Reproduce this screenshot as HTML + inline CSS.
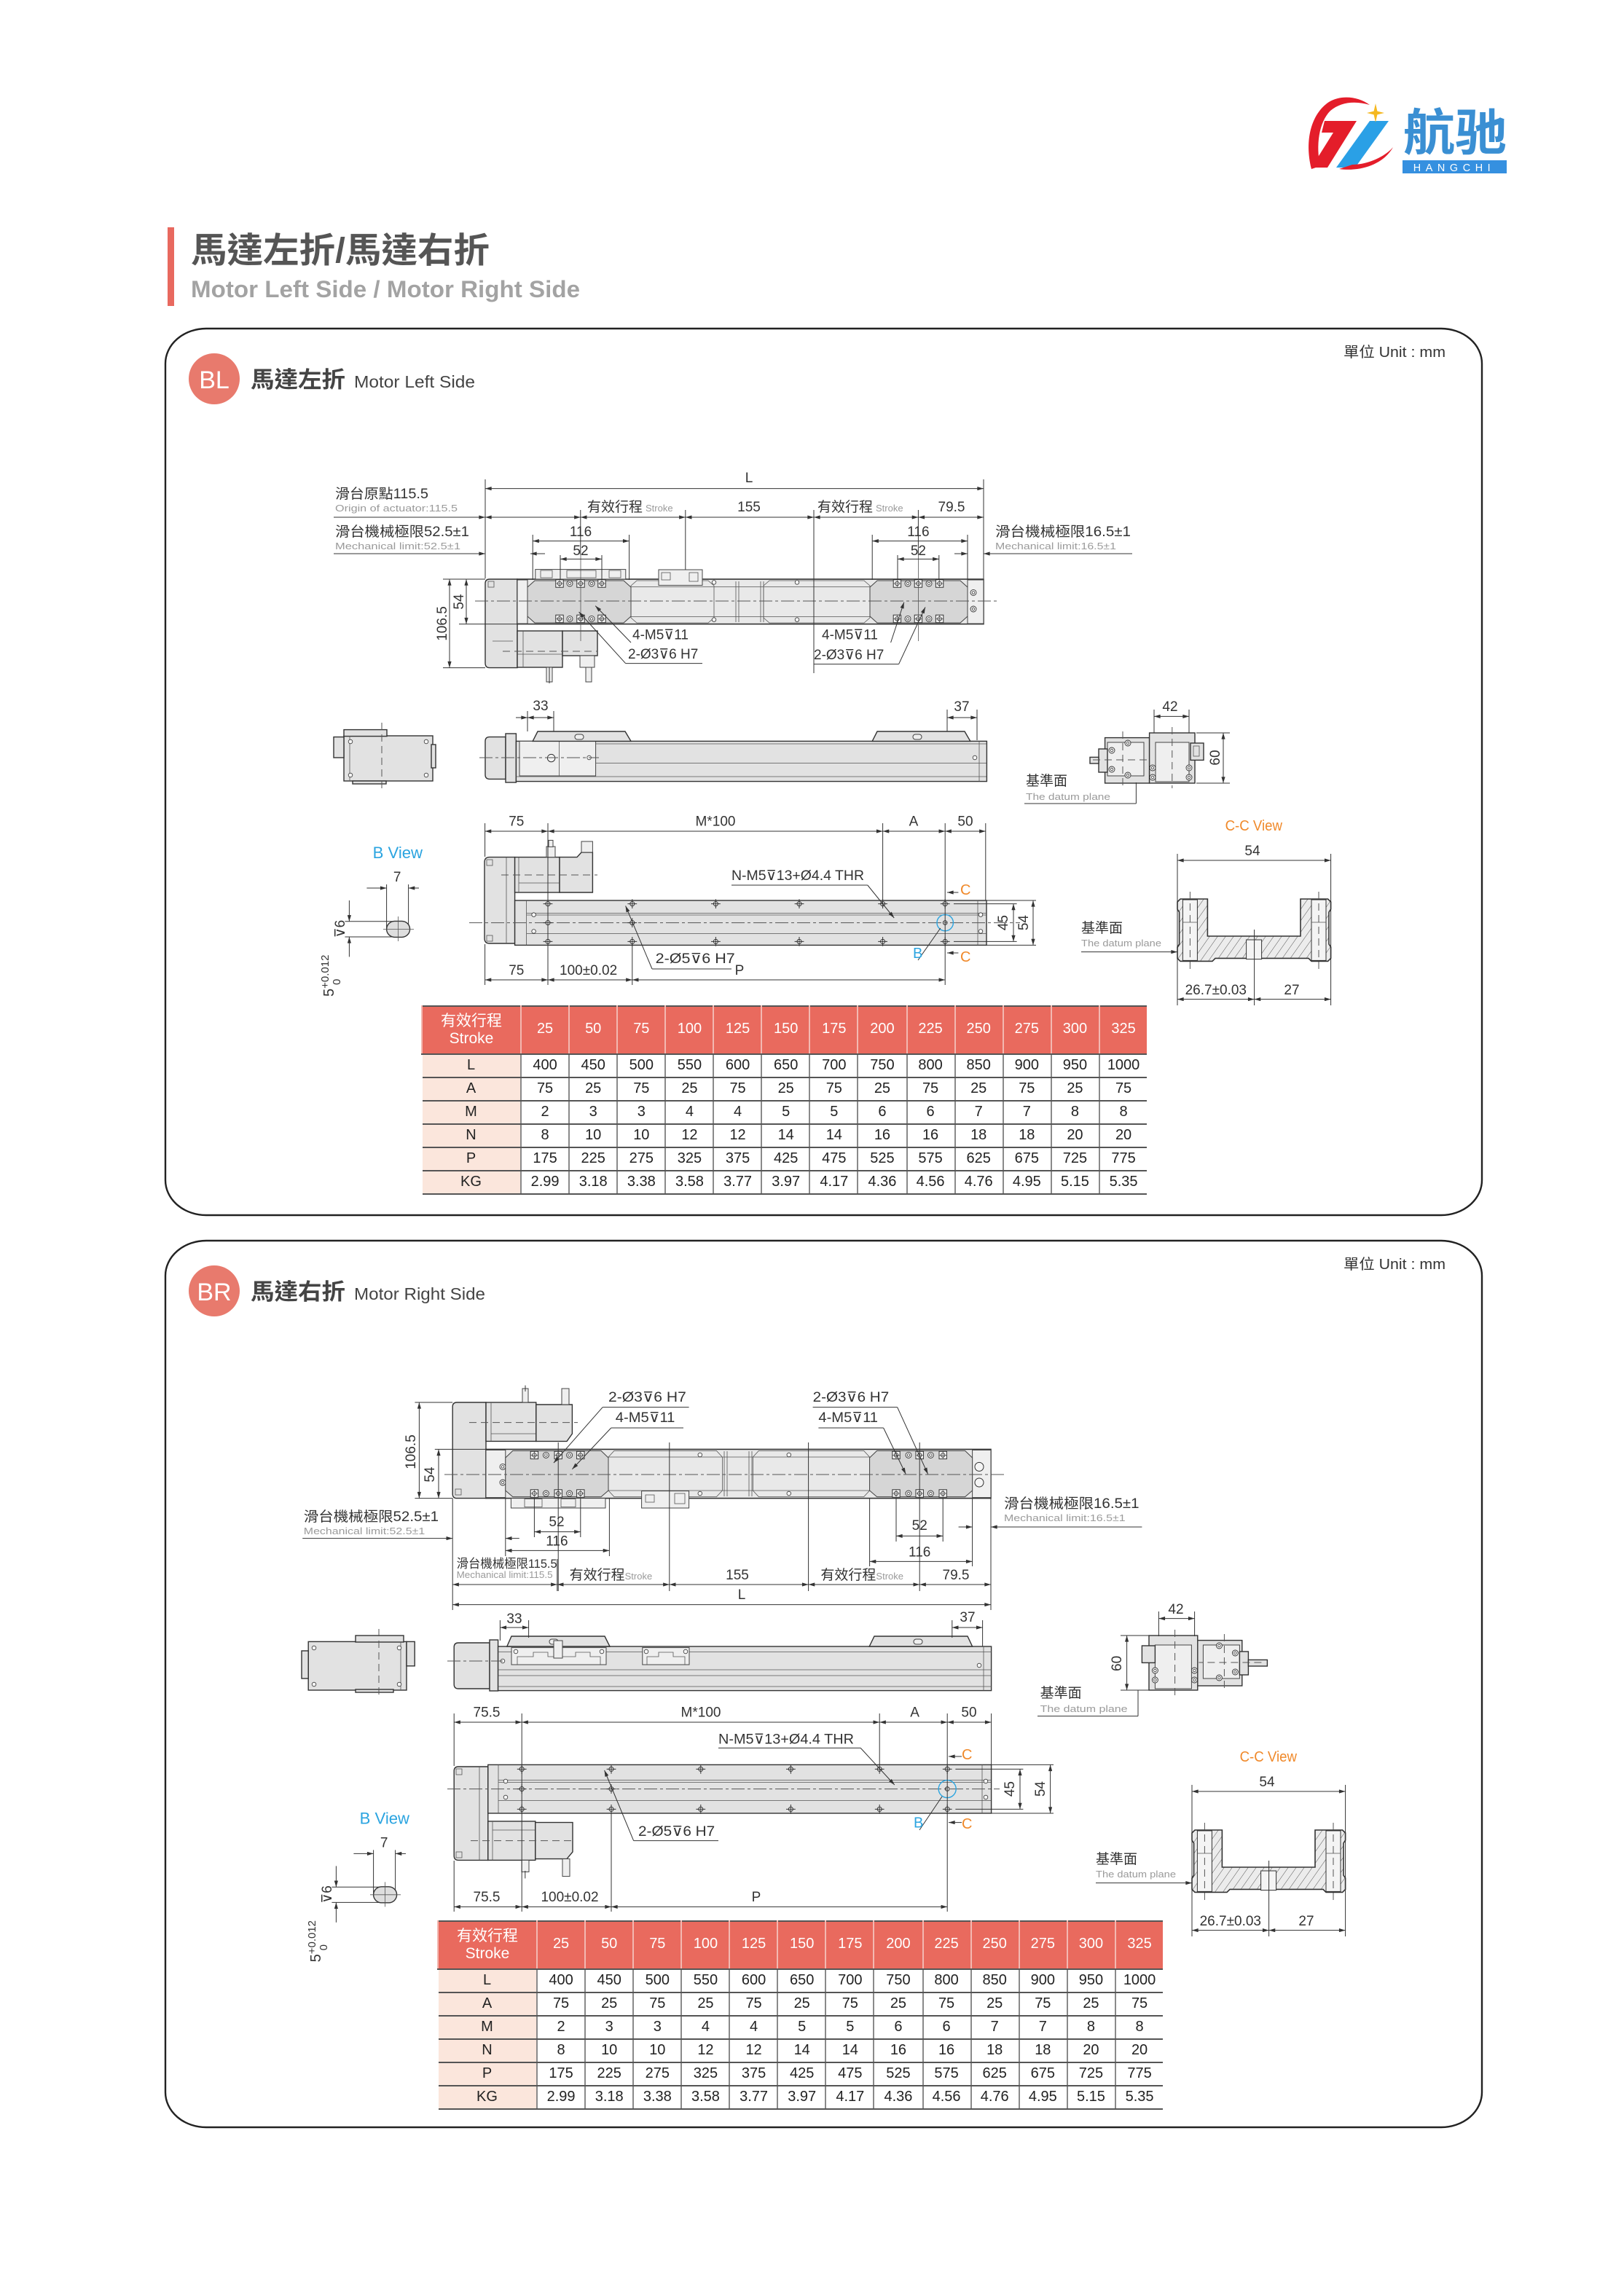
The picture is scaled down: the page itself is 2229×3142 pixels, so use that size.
<!DOCTYPE html>
<html><head><meta charset="utf-8">
<style>
html,body{margin:0;padding:0;background:#fff;}
body{width:2229px;height:3141px;overflow:hidden;position:relative;}
#pg{position:absolute;left:0;top:0;width:1115px;height:1571px;transform:scale(2);transform-origin:0 0;}
#pg svg{position:absolute;left:0;top:0;}
.tb{position:absolute;border-collapse:collapse;table-layout:fixed;width:497px;font-family:"Liberation Sans","Noto Sans CJK TC",sans-serif;font-size:10px;color:#222;}
.tb td{padding:0;text-align:center;height:15px;line-height:15px;border-bottom:0.8px solid #555;border-left:0.6px solid #8a8a8a;white-space:nowrap;overflow:hidden;}
.tb tr.h td{background:#e96a5e;color:#fff;height:32px;line-height:12px;border-left:0.8px solid #f3b8b1;border-bottom:0.8px solid #555;font-size:10px;}
.tb tr.h td.f{font-size:10.5px;background:#e96a5e;}
.tb td.f{background:#fbe6dc;border-left:none;}
.tb tr.h{border-top:1px solid #555;}
</style></head>
<body>
<div id="pg">
<svg width="1115" height="1571" viewBox="0 0 1115 1571" xmlns="http://www.w3.org/2000/svg">
<defs>
<marker id="a" viewBox="0 0 10 6" refX="10" refY="3" markerWidth="5.5" markerHeight="2.6" markerUnits="userSpaceOnUse" orient="auto-start-reverse"><path d="M0,0L10,3L0,6z" fill="#333"/></marker>
<pattern id="h" width="4.5" height="4.5" patternUnits="userSpaceOnUse" patternTransform="rotate(35)"><rect width="4.5" height="4.5" fill="#ececec"/><line x1="0" y1="0" x2="0" y2="4.5" stroke="#555" stroke-width=".5"/></pattern>
<g id="hp"><circle r="1.5" fill="#fff" stroke="#333" stroke-width=".5"/><path d="M-3.2,0H3.2M0,-3.2V3.2" stroke="#333" stroke-width=".5"/></g>
<g id="sq"><rect x="-2.6" y="-2.6" width="5.2" height="5.2" fill="#f7f7f7" stroke="#333" stroke-width=".5"/><circle r="1.4" fill="none" stroke="#333" stroke-width=".45"/><path d="M-2.6,0H2.6M0,-2.6V2.6" stroke="#333" stroke-width=".3"/></g>
<g id="rc"><circle r="2" fill="#f7f7f7" stroke="#333" stroke-width=".45"/><circle r=".9" fill="none" stroke="#333" stroke-width=".4"/></g>
<g id="sc"><circle r="1.4" fill="#f7f7f7" stroke="#333" stroke-width=".4"/></g>
</defs>
<style>
.d{stroke:#333;stroke-width:.5;fill:none}
.p{fill:#e2e2e2;stroke:#333;stroke-width:.7}
.q{fill:#d6d6d6;stroke:#444;stroke-width:.5}
.w{fill:#efefef;stroke:#444;stroke-width:.5}
.t{stroke:#555;stroke-width:.4;fill:none}
.c{stroke:#555;stroke-width:.5;fill:none;stroke-dasharray:9 2 2 2}
.k{stroke:#555;stroke-width:.5;fill:none;stroke-dasharray:5 3}
text{font-family:"Liberation Sans","Noto Sans CJK TC",sans-serif;fill:#333}
.n{font-size:9.5px}
.z{font-size:9.5px}
.s{font-size:6.5px;fill:#9a9a9a}
.m{text-anchor:middle}
.or{fill:#f0892a;font-size:10px}
.bl{fill:#2ba4e0}
</style>

<!-- ===== LOGO ===== -->
<g>
<path d="M900,116 C895,96 900,78 912,70 C920,65 932,66 940,72 C930,69 920,70 913,76 C905,84 903,100 906,114 Z" fill="#e41d2a"/>
<path d="M909,83 L931,83 L911,115 L900,115 L915,91 L907,91 Z" fill="#e41d2a"/>
<path d="M940,83 L953,83 L930,115 L917,115 Z" fill="#2aa0e6"/>
<path d="M919,116 C935,118 950,112 956,101 C950,108 938,113 928,113 Z" fill="#e41d2a"/>
<path d="M944,71 L945.2,76.3 L950,77.5 L945.2,78.7 L944,84 L942.8,78.7 L938,77.5 L942.8,76.3 Z" fill="#f5b820"/>
<text x="963" y="103" font-size="34" font-weight="bold" style="font-family:'Noto Sans CJK SC','WenQuanYi Zen Hei',sans-serif;fill:#3a8fd3" textLength="71" lengthAdjust="spacingAndGlyphs">航驰</text>
<rect x="962.5" y="110" width="71.5" height="9" fill="#3590e0"/>
<text x="998" y="117.6" font-size="7.2" class="m" style="fill:#fff;letter-spacing:3.3px">HANGCHI</text>
</g>

<!-- ===== TITLE ===== -->
<rect x="115" y="156" width="4.5" height="54" fill="#e8695f"/>
<text x="131" y="180" font-size="24" font-weight="bold" style="fill:#555" textLength="205" lengthAdjust="spacingAndGlyphs">馬達左折/馬達右折</text>
<text x="131" y="204" font-size="16" font-weight="bold" style="fill:#a3a3a3" textLength="267" lengthAdjust="spacingAndGlyphs">Motor Left Side / Motor Right Side</text>

<!-- ===== BOXES ===== -->
<rect x="113.5" y="225.5" width="903.5" height="608.5" rx="28" ry="24" fill="none" stroke="#222" stroke-width="1.2"/>
<rect x="113.5" y="851.5" width="903.5" height="608.5" rx="28" ry="24" fill="none" stroke="#222" stroke-width="1.2"/>

<!-- BL header -->
<circle cx="147" cy="260" r="17.5" fill="#e87a6d"/>
<text x="147" y="266.5" class="m" font-size="17" style="fill:#fff">BL</text>
<text x="172" y="266" font-size="15.5" font-weight="bold" style="fill:#444" textLength="65" lengthAdjust="spacingAndGlyphs">馬達左折</text>
<text x="243" y="266" font-size="11.5" style="fill:#444" textLength="83" lengthAdjust="spacingAndGlyphs">Motor Left Side</text>
<text x="992" y="245" font-size="10" text-anchor="end" textLength="70" lengthAdjust="spacingAndGlyphs">單位 Unit : mm</text>

<!-- BR header -->
<circle cx="147" cy="886" r="17.5" fill="#e87a6d"/>
<text x="147" y="892.5" class="m" font-size="17" style="fill:#fff">BR</text>
<text x="172" y="892" font-size="15.5" font-weight="bold" style="fill:#444" textLength="65" lengthAdjust="spacingAndGlyphs">馬達右折</text>
<text x="243" y="892" font-size="11.5" style="fill:#444" textLength="90" lengthAdjust="spacingAndGlyphs">Motor Right Side</text>
<text x="992" y="871" font-size="10" text-anchor="end" textLength="70" lengthAdjust="spacingAndGlyphs">單位 Unit : mm</text>

<!-- ===================== BL TOP VIEW ========================= -->
<g>
<path d="M336,397.5 H355 V458.3 H336 Q333,458.3 333,455 V400.5 Q333,397.5 336,397.5Z" class="p"/>
<rect x="335" y="399" width="4" height="4" class="t"/>
<line x1="338" y1="440" x2="352" y2="440" class="t"/>
<rect x="355" y="433" width="31" height="25" class="p"/>
<rect x="386" y="433" width="24" height="17" class="p"/>
<line x1="359" y1="433" x2="359" y2="458" class="t"/>
<line x1="355" y1="449" x2="386" y2="449" class="t"/>
<rect x="375" y="458" width="4" height="10" class="w"/>
<line x1="377" y1="458" x2="377" y2="469" class="d"/>
<rect x="398" y="450" width="10" height="8" class="w"/>
<rect x="402" y="458" width="4" height="10" class="w"/>
<line x1="345" y1="447" x2="410" y2="447" class="k"/>
<rect x="355" y="397.5" width="320" height="30.8" fill="#e9e9e9" stroke="#333" stroke-width=".8"/>
<line x1="433" y1="402.8" x2="597" y2="402.8" class="t"/>
<line x1="433" y1="423.3" x2="597" y2="423.3" class="t"/>
<path d="M437,398.5 H486 L490,402 V424 L486,427.5 H437 L433,424 V402Z" class="t"/>
<path d="M528,398.5 H593 L597,402 V424 L593,427.5 H528 L524,424 V402Z" class="t"/>
<line x1="505" y1="399" x2="505" y2="427" class="t"/><line x1="507" y1="399" x2="507" y2="427" class="t"/>
<line x1="522" y1="399" x2="522" y2="427" class="t"/><line x1="524" y1="399" x2="524" y2="427" class="t"/>
<use href="#sc" x="490" y="399.7"/><use href="#sc" x="490" y="425.3"/>
<use href="#sc" x="547" y="399.7"/><use href="#sc" x="547" y="425.3"/>
<rect x="355" y="398" width="7" height="30" class="w"/>
<use href="#rc" x="364" y="406.7"/><use href="#rc" x="364" y="416.7"/>
<rect x="664" y="398" width="11" height="30" class="w"/>
<use href="#rc" x="668" y="406.7"/><use href="#rc" x="668" y="418"/>
<path d="M367,398.5 H428 L433,403 V423 L428,427.5 H367 L362,423 V403Z" class="q" fill="#dcdcdc"/>
<path d="M602,398.5 H659 L664,403 V423 L659,427.5 H602 L597,423 V403Z" class="q" fill="#dcdcdc"/>
<use href="#sq" x="384" y="400.5"/><use href="#rc" x="391" y="400.5"/><use href="#sq" x="398.5" y="400.5"/><use href="#rc" x="406" y="400.5"/><use href="#sq" x="413" y="400.5"/>
<use href="#sq" x="384" y="424.7"/><use href="#rc" x="391" y="424.7"/><use href="#sq" x="398.5" y="424.7"/><use href="#rc" x="406" y="424.7"/><use href="#sq" x="413" y="424.7"/>
<use href="#sq" x="615.7" y="400.5"/><use href="#rc" x="623" y="400.5"/><use href="#sq" x="630.2" y="400.5"/><use href="#rc" x="637.5" y="400.5"/><use href="#sq" x="644.8" y="400.5"/>
<use href="#sq" x="615.7" y="424.7"/><use href="#rc" x="623" y="424.7"/><use href="#sq" x="630.2" y="424.7"/><use href="#rc" x="637.5" y="424.7"/><use href="#sq" x="644.8" y="424.7"/>
<rect x="367.4" y="390.8" width="62" height="6.7" class="w"/>
<rect x="371" y="391.5" width="8" height="5" class="t"/><rect x="418" y="391.5" width="8" height="5" class="t"/>
<rect x="389" y="391.5" width="20" height="5" class="t"/>
<rect x="452" y="391" width="30" height="10.7" class="w"/>
<rect x="454" y="393" width="6" height="5" class="t"/><rect x="473" y="393" width="6" height="6" class="t"/>
<line x1="326" y1="412.5" x2="685" y2="412.5" class="c"/>
<line x1="398.5" y1="381" x2="398.5" y2="440" class="t"/>
<line x1="630.2" y1="381" x2="630.2" y2="440" class="t"/>
</g>
<g class="d">
<line x1="333" y1="329" x2="333" y2="397"/>
<line x1="675" y1="329" x2="675" y2="397"/>
<line x1="333" y1="335.3" x2="675" y2="335.3" marker-start="url(#a)" marker-end="url(#a)"/>
<line x1="229" y1="355" x2="333" y2="355" marker-end="url(#a)"/>
<line x1="333" y1="355" x2="398.4" y2="355" marker-start="url(#a)" marker-end="url(#a)"/>
<line x1="398.4" y1="355" x2="470.4" y2="355" marker-start="url(#a)" marker-end="url(#a)"/>
<line x1="470.4" y1="355" x2="558.5" y2="355" marker-start="url(#a)" marker-end="url(#a)"/>
<line x1="558.5" y1="355" x2="630.2" y2="355" marker-start="url(#a)" marker-end="url(#a)"/>
<line x1="630.2" y1="355" x2="675" y2="355" marker-start="url(#a)" marker-end="url(#a)"/>
<line x1="398.4" y1="350" x2="398.4" y2="381"/>
<line x1="470.4" y1="350" x2="470.4" y2="391"/>
<line x1="558.5" y1="350" x2="558.5" y2="462"/>
<line x1="630.2" y1="350" x2="630.2" y2="381"/>
<line x1="229" y1="380" x2="333" y2="380" marker-end="url(#a)"/>
<line x1="374" y1="380" x2="364" y2="380" marker-end="url(#a)"/>
<line x1="655" y1="380" x2="664" y2="380" marker-end="url(#a)"/>
<line x1="777" y1="380" x2="675" y2="380" marker-end="url(#a)"/>
<line x1="365.6" y1="367" x2="365.6" y2="398"/><line x1="431.8" y1="367" x2="431.8" y2="398"/>
<line x1="365.6" y1="371.3" x2="431.8" y2="371.3" marker-start="url(#a)" marker-end="url(#a)"/>
<line x1="384.5" y1="381" x2="384.5" y2="398"/><line x1="413" y1="381" x2="413" y2="398"/>
<line x1="384.5" y1="383.7" x2="413" y2="383.7" marker-start="url(#a)" marker-end="url(#a)"/>
<line x1="598.6" y1="367" x2="598.6" y2="398"/><line x1="664" y1="367" x2="664" y2="398"/>
<line x1="598.6" y1="371.3" x2="664" y2="371.3" marker-start="url(#a)" marker-end="url(#a)"/>
<line x1="616" y1="381" x2="616" y2="398"/><line x1="644.4" y1="381" x2="644.4" y2="398"/>
<line x1="616" y1="383.7" x2="644.4" y2="383.7" marker-start="url(#a)" marker-end="url(#a)"/>
<line x1="315" y1="397.5" x2="333" y2="397.5"/>
<line x1="315" y1="428.3" x2="355" y2="428.3"/>
<line x1="320" y1="397.5" x2="320" y2="428.3" marker-start="url(#a)" marker-end="url(#a)"/>
<line x1="304" y1="458.3" x2="333" y2="458.3"/>
<line x1="304" y1="397.5" x2="315" y2="397.5"/>
<line x1="308.5" y1="397.5" x2="308.5" y2="458.3" marker-start="url(#a)" marker-end="url(#a)"/>
<line x1="397.3" y1="420" x2="429.3" y2="455.3" marker-start="url(#a)"/>
<line x1="429.3" y1="455.3" x2="482" y2="455.3"/>
<line x1="408.6" y1="415.8" x2="433" y2="441" marker-start="url(#a)"/>
<line x1="620.4" y1="413.3" x2="611.3" y2="441" marker-start="url(#a)"/>
<line x1="635" y1="416.7" x2="616.8" y2="455.8" marker-start="url(#a)"/>
<line x1="558.5" y1="455.8" x2="616.8" y2="455.8"/>
</g>
<g>
<text x="514" y="331" class="n m">L</text>
<text x="230" y="342" class="z" textLength="64" lengthAdjust="spacingAndGlyphs">滑台原點115.5</text>
<text x="230" y="351" class="s" textLength="84" lengthAdjust="spacingAndGlyphs">Origin of actuator:115.5</text>
<text x="403" y="351" class="z">有效行程<tspan class="s" dx="2">Stroke</tspan></text>
<text x="514" y="351" class="n m">155</text>
<text x="561" y="351" class="z">有效行程<tspan class="s" dx="2">Stroke</tspan></text>
<text x="653" y="351" class="n m">79.5</text>
<text x="230" y="368" class="z" textLength="92" lengthAdjust="spacingAndGlyphs">滑台機械極限52.5±1</text>
<text x="230" y="377" class="s" textLength="86" lengthAdjust="spacingAndGlyphs">Mechanical limit:52.5±1</text>
<text x="683" y="368" class="z" textLength="93" lengthAdjust="spacingAndGlyphs">滑台機械極限16.5±1</text>
<text x="683" y="377" class="s" textLength="83" lengthAdjust="spacingAndGlyphs">Mechanical limit:16.5±1</text>
<text x="398.5" y="368" class="n m">116</text>
<text x="398.5" y="381" class="n m">52</text>
<text x="630.2" y="368" class="n m">116</text>
<text x="630.2" y="381" class="n m">52</text>
<text transform="translate(318,413) rotate(-90)" class="n m">54</text>
<text transform="translate(306.5,428) rotate(-90)" class="n m">106.5</text>
<text x="434" y="438.7" class="z">4-M5⊽11</text>
<text x="431" y="452" class="z">2-Ø3⊽6 H7</text>
<text x="564" y="438.7" class="z">4-M5⊽11</text>
<text x="558.5" y="452.5" class="z">2-Ø3⊽6 H7</text>
</g>

<!-- ===================== BL SIDE ROW ========================= -->
<g>
<rect x="236" y="505" width="61" height="31" class="p"/>
<rect x="236" y="500.8" width="29.5" height="4.5" class="p"/>
<rect x="229" y="505.8" width="7" height="14.2" class="p"/>
<rect x="296" y="511" width="3" height="16" class="p"/>
<rect x="242" y="536" width="23" height="2" class="p"/>
<line x1="240" y1="505" x2="240" y2="536" class="t"/>
<line x1="262" y1="496" x2="262" y2="541" class="k"/>
<use href="#sc" x="240.5" y="509"/><use href="#sc" x="292.5" y="509"/><use href="#sc" x="240.5" y="532"/><use href="#sc" x="292.5" y="532"/>
<path d="M336,505.8 H347 V534.7 H336 Q333,534.7 333,531.7 V508.8 Q333,505.8 336,505.8Z" class="p"/>
<rect x="347" y="503.5" width="7.2" height="33.5" class="p"/>
<rect x="354.2" y="508.7" width="323" height="27.6" class="p" fill="#e7e7e7"/>
<rect x="356.5" y="508.7" width="52.3" height="23.8" class="w"/>
<line x1="383.8" y1="508.7" x2="383.8" y2="532.5" class="t"/>
<line x1="408.8" y1="510.5" x2="677" y2="510.5" class="t"/>
<line x1="408.8" y1="523.7" x2="677" y2="523.7" class="t"/>
<line x1="354.2" y1="533" x2="677" y2="533" class="t"/>
<line x1="672" y1="508.7" x2="672" y2="536.3" class="t"/>
<circle cx="378.3" cy="520.3" r="2.6" fill="#f5f5f5" stroke="#333" stroke-width=".5"/>
<use href="#sc" x="404.3" y="520"/><use href="#sc" x="669" y="520"/>
<path d="M365.6,508.7 L369,502 H429 L433,508.7Z" class="p"/>
<path d="M598.6,508.7 L602,502 H662 L665.9,508.7Z" class="p"/>
<rect x="394.5" y="504" width="6" height="3.5" rx="1.7" class="w"/>
<rect x="626.5" y="504" width="6" height="3.5" rx="1.7" class="w"/>
<line x1="329" y1="520" x2="411" y2="520" class="c"/>
<rect x="758.3" y="506.3" width="30.5" height="31.2" class="p"/>
<rect x="760" y="509.5" width="25" height="23" class="w"/>
<rect x="754" y="514" width="6" height="16" class="p"/>
<rect x="748" y="519.7" width="6" height="4.3" class="p"/>
<rect x="788.8" y="503" width="31.2" height="34.5" class="p"/>
<rect x="793" y="509.5" width="23" height="27" class="w"/>
<rect x="817" y="510" width="9" height="11.7" class="p"/>
<rect x="819" y="512" width="4" height="7" class="t"/>
<use href="#rc" x="763" y="515"/><use href="#rc" x="763" y="528"/><use href="#rc" x="774" y="510"/><use href="#rc" x="774" y="532"/>
<use href="#rc" x="791" y="527"/><use href="#rc" x="791" y="533.5"/><use href="#rc" x="816" y="527"/><use href="#rc" x="816" y="533.5"/>
<line x1="804.4" y1="499" x2="804.4" y2="541" class="k"/>
<line x1="770.5" y1="502" x2="770.5" y2="540" class="k"/>
<line x1="750" y1="521.5" x2="788" y2="521.5" class="k"/>
</g>
<g class="d">
<line x1="362" y1="488" x2="362" y2="502"/><line x1="380" y1="488" x2="380" y2="502"/>
<line x1="354" y1="492.5" x2="362" y2="492.5" marker-end="url(#a)"/>
<line x1="362" y1="492.5" x2="380" y2="492.5" marker-start="url(#a)" marker-end="url(#a)"/>
<line x1="650" y1="487" x2="650" y2="502"/><line x1="670.5" y1="487" x2="670.5" y2="508"/>
<line x1="650" y1="492.5" x2="670.5" y2="492.5" marker-start="url(#a)" marker-end="url(#a)"/>
<line x1="792" y1="487" x2="792" y2="503"/><line x1="816" y1="487" x2="816" y2="503"/>
<line x1="792" y1="491.7" x2="816" y2="491.7" marker-start="url(#a)" marker-end="url(#a)"/>
<line x1="821" y1="503" x2="844" y2="503"/><line x1="821" y1="537.5" x2="844" y2="537.5"/>
<line x1="839.5" y1="503" x2="839.5" y2="537.5" marker-start="url(#a)" marker-end="url(#a)"/>
<line x1="703" y1="551.5" x2="779.7" y2="551.5"/><line x1="779.7" y1="537" x2="779.7" y2="551.5"/>
</g>
<g>
<text x="371" y="487.5" class="n m">33</text>
<text x="660" y="488" class="n m">37</text>
<text x="803" y="488" class="n m">42</text>
<text transform="translate(837,520) rotate(-90)" class="n m">60</text>
<text x="704" y="539" class="z">基準面</text>
<text x="704" y="549" class="s" textLength="58" lengthAdjust="spacingAndGlyphs">The datum plane</text>
</g>

<!-- ===================== BL BOTTOM VIEW ========================= -->
<g>
<path d="M336,588.3 H353.3 V647.5 H336 Q332.5,647.5 332.5,644 V591.8 Q332.5,588.3 336,588.3Z" class="p"/>
<rect x="334" y="590" width="4" height="4" class="t"/><rect x="334" y="642" width="4" height="4" class="t"/>
<line x1="347.5" y1="588.3" x2="347.5" y2="647.5" class="t"/>
<rect x="353.3" y="588.3" width="30.7" height="24.2" class="p"/>
<line x1="356" y1="588.3" x2="356" y2="612.5" class="t"/>
<line x1="356" y1="606" x2="384" y2="606" class="t"/>
<path d="M384,588.3 H396 L399,585 H406.7 V612.5 H384Z" class="p"/>
<rect x="399" y="577.5" width="7.7" height="7.5" class="w"/>
<rect x="375" y="581" width="6" height="7.3" class="w"/>
<rect x="376.5" y="576.7" width="3" height="4.5" class="w"/>
<line x1="344" y1="600.5" x2="410" y2="600.5" class="k"/>
<rect x="353.3" y="618" width="323.7" height="30.7" class="p" fill="#e7e7e7"/>
<line x1="361.3" y1="618" x2="361.3" y2="648.7" class="t"/>
<line x1="361.3" y1="626.7" x2="677" y2="626.7" class="t"/>
<line x1="361.3" y1="628" x2="677" y2="628" class="t"/>
<line x1="361.3" y1="640.8" x2="677" y2="640.8" class="t"/>
<line x1="671" y1="618" x2="671" y2="648.7" class="t"/>
<use href="#sc" x="366.3" y="627.8"/><use href="#sc" x="366.3" y="639.2"/>
<use href="#sc" x="673" y="627.8"/><use href="#sc" x="673" y="639.2"/>
<line x1="322" y1="633.3" x2="700" y2="633.3" class="c"/>
<use href="#hp" x="376" y="620.3"/><use href="#hp" x="433.9" y="620.3"/><use href="#hp" x="491.2" y="620.3"/><use href="#hp" x="548.5" y="620.3"/><use href="#hp" x="605.8" y="620.3"/><use href="#hp" x="648.6" y="620.3"/>
<use href="#hp" x="376" y="646.2"/><use href="#hp" x="433.9" y="646.2"/><use href="#hp" x="491.2" y="646.2"/><use href="#hp" x="548.5" y="646.2"/><use href="#hp" x="605.8" y="646.2"/><use href="#hp" x="648.6" y="646.2"/>
<use href="#hp" x="376" y="633.3"/><use href="#hp" x="433.9" y="633.3"/>
<circle cx="648.6" cy="633.3" r="5.6" fill="none" stroke="#2ba4e0" stroke-width=".7"/>
<circle cx="648.6" cy="633.3" r="1.4" fill="none" stroke="#333" stroke-width=".5"/>
</g>
<g class="d">
<line x1="332.8" y1="565" x2="332.8" y2="588"/>
<line x1="376" y1="565" x2="376" y2="676"/>
<line x1="605.8" y1="565" x2="605.8" y2="618"/>
<line x1="648.6" y1="565" x2="648.6" y2="676"/>
<line x1="676.4" y1="565" x2="676.4" y2="618"/>
<line x1="332.8" y1="570.5" x2="376" y2="570.5" marker-start="url(#a)" marker-end="url(#a)"/>
<line x1="376" y1="570.5" x2="605.8" y2="570.5" marker-start="url(#a)" marker-end="url(#a)"/>
<line x1="605.8" y1="570.5" x2="648.6" y2="570.5" marker-start="url(#a)" marker-end="url(#a)"/>
<line x1="648.6" y1="570.5" x2="676.4" y2="570.5" marker-start="url(#a)" marker-end="url(#a)"/>
<line x1="332.8" y1="648" x2="332.8" y2="676"/>
<line x1="433.9" y1="648" x2="433.9" y2="676"/>
<line x1="332.8" y1="672.5" x2="376" y2="672.5" marker-start="url(#a)" marker-end="url(#a)"/>
<line x1="376" y1="672.5" x2="433.9" y2="672.5" marker-start="url(#a)" marker-end="url(#a)"/>
<line x1="433.9" y1="672.5" x2="648.6" y2="672.5" marker-start="url(#a)" marker-end="url(#a)"/>
<line x1="654.5" y1="620.3" x2="697.8" y2="620.3"/><line x1="654.5" y1="646.2" x2="697.8" y2="646.2"/>
<line x1="695.5" y1="620.3" x2="695.5" y2="646.2" marker-start="url(#a)" marker-end="url(#a)"/>
<line x1="677" y1="618" x2="711" y2="618"/><line x1="677" y1="648.7" x2="711" y2="648.7"/>
<line x1="709" y1="618" x2="709" y2="648.7" marker-start="url(#a)" marker-end="url(#a)"/>
<line x1="502" y1="607.5" x2="595.4" y2="607.5"/>
<line x1="595.4" y1="607.5" x2="613.6" y2="630" marker-end="url(#a)"/>
<line x1="447.5" y1="665" x2="502" y2="665"/>
<line x1="447.5" y1="665" x2="429.3" y2="621.7" marker-end="url(#a)"/>
<line x1="657.7" y1="612.5" x2="650" y2="612.5" marker-end="url(#a)"/>
<line x1="657.7" y1="654" x2="650" y2="654" marker-end="url(#a)"/>
<line x1="630" y1="659" x2="645.4" y2="637"/>
</g>
<g>
<text x="354.4" y="566.7" class="n m">75</text>
<text x="491" y="566.7" class="n m">M*100</text>
<text x="627" y="566.7" class="n m">A</text>
<text x="662.5" y="566.7" class="n m">50</text>
<text x="354.4" y="669" class="n m">75</text>
<text x="403.8" y="669" class="n m">100±0.02</text>
<text x="507.5" y="669" class="n m">P</text>
<text x="502" y="604" class="z" textLength="91" lengthAdjust="spacingAndGlyphs">N-M5⊽13+Ø4.4 THR</text>
<text x="449.8" y="661" class="z" textLength="54.6" lengthAdjust="spacingAndGlyphs">2-Ø5⊽6 H7</text>
<text transform="translate(691.5,633.3) rotate(-90)" class="n m">45</text>
<text transform="translate(705.5,633.3) rotate(-90)" class="n m">54</text>
<text x="659" y="614" class="or">C</text>
<text x="659" y="660" class="or">C</text>
<text x="626.5" y="657.5" class="bl" font-size="10">B</text>
</g>

<g id="bv">
<text x="255.8" y="589" class="bl" font-size="11" textLength="34.2" lengthAdjust="spacingAndGlyphs">B View</text>
<g class="d">
<line x1="251.7" y1="609.5" x2="265.3" y2="609.5" marker-end="url(#a)"/>
<line x1="287.5" y1="609.5" x2="280.3" y2="609.5" marker-end="url(#a)"/>
<line x1="265.3" y1="607" x2="265.3" y2="637"/>
<line x1="280.3" y1="607" x2="280.3" y2="637"/>
<line x1="236.7" y1="632.4" x2="272" y2="632.4"/>
<line x1="236.7" y1="643" x2="272" y2="643"/>
<line x1="239.7" y1="618" x2="239.7" y2="632.4" marker-end="url(#a)"/>
<line x1="239.7" y1="656.7" x2="239.7" y2="643" marker-end="url(#a)"/>
</g>
<rect x="265.3" y="632.2" width="16" height="11" rx="5.5" ry="5.5" fill="#dedede" stroke="#333" stroke-width=".7"/>
<line x1="263" y1="637.7" x2="284" y2="637.7" class="t"/>
<line x1="273.3" y1="629" x2="273.3" y2="646" class="t"/>
<text x="272.6" y="605" class="n m">7</text>
<text transform="translate(236.5,637.5) rotate(-90)" class="n m">⊽6</text>
<text transform="translate(229,684) rotate(-90)" font-size="10">5<tspan font-size="7.5" dy="-3.5">+0.012</tspan></text>
<text transform="translate(233.5,676) rotate(-90)" font-size="7.5">0</text>
</g>

<g id="cc">
<text x="840.8" y="570" class="or" textLength="39.2" lengthAdjust="spacingAndGlyphs">C-C View</text>
<text x="859.5" y="587" class="n m">54</text>
<g class="d">
<line x1="808" y1="586" x2="808" y2="690"/>
<line x1="913.3" y1="586" x2="913.3" y2="690"/>
<line x1="808" y1="590.5" x2="913.3" y2="590.5" marker-start="url(#a)" marker-end="url(#a)"/>
<line x1="808" y1="685.8" x2="860.8" y2="685.8" marker-start="url(#a)" marker-end="url(#a)"/>
<line x1="860.8" y1="685.8" x2="913.3" y2="685.8" marker-start="url(#a)" marker-end="url(#a)"/>
<line x1="742" y1="653.3" x2="808" y2="653.3" marker-end="url(#a)"/>
</g>
<path d="M810,617 H828.7 V642.5 H892.5 V617 H911.3 L913.3,619 V624 L912,626 V648 L913.3,650 V657.7 L911.3,659.7 H900 L898,657.7 H834 L832,659.7 H810 L808,657.7 V650 L809.3,648 V626 L808,624 V619Z" fill="url(#h)" stroke="#333" stroke-width=".8"/>
<rect x="811.7" y="617.5" width="10" height="41.7" fill="#f4f4f4" stroke="#333" stroke-width=".5"/>
<line x1="811.7" y1="633" x2="821.7" y2="633" class="t"/>
<rect x="900" y="617.5" width="10" height="41.7" fill="#f4f4f4" stroke="#333" stroke-width=".5"/>
<line x1="900" y1="633" x2="910" y2="633" class="t"/>
<rect x="855.3" y="645" width="10.5" height="13.3" fill="#f4f4f4" stroke="#333" stroke-width=".5"/>
<line x1="816.7" y1="612" x2="816.7" y2="665" class="k"/>
<line x1="905" y1="612" x2="905" y2="665" class="k"/>
<line x1="860.8" y1="638" x2="860.8" y2="690" class="d"/>
<text x="834.4" y="682.5" class="n m">26.7±0.03</text>
<text x="886.5" y="682.5" class="n m">27</text>
<text x="742" y="640" class="z">基準面</text>
<text x="742" y="649.5" class="s" textLength="55" lengthAdjust="spacingAndGlyphs">The datum plane</text>
</g>

<!-- ===================== BR TOP VIEW ========================= -->
<g>
<path d="M313.6,962.5 H333.5 V1028.3 H313.6 Q310.6,1028.3 310.6,1025.3 V965.5 Q310.6,962.5 313.6,962.5Z" class="p"/>
<rect x="312.5" y="1022" width="4" height="4" class="t"/>
<rect x="333.5" y="962.5" width="34.4" height="26.7" class="p"/>
<line x1="337" y1="962.5" x2="337" y2="989.2" class="t"/>
<line x1="337" y1="984" x2="367.9" y2="984" class="t"/>
<path d="M367.9,964 H392.7 V984 L389,989.2 H367.9Z" class="p"/>
<rect x="358.5" y="953" width="4" height="9.5" class="w"/>
<line x1="360.5" y1="950.8" x2="360.5" y2="955" class="d"/>
<rect x="385.5" y="953" width="5" height="11" class="w"/>
<line x1="322" y1="976.3" x2="396.5" y2="976.3" class="k"/>
<rect x="333.5" y="994.7" width="346.5" height="33.6" fill="#e9e9e9" stroke="#333" stroke-width=".8"/>
<line x1="417.5" y1="1000" x2="596.8" y2="1000" class="t"/>
<line x1="417.5" y1="1023" x2="596.8" y2="1023" class="t"/>
<path d="M421.5,995.7 H491.7 L495.7,1000 V1023 L491.7,1027.3 H421.5 L417.5,1023 V1000Z" class="t"/>
<path d="M520.7,995.7 H592.8 L596.8,1000 V1023 L592.8,1027.3 H520.7 L516.7,1023 V1000Z" class="t"/>
<line x1="497" y1="996" x2="497" y2="1027" class="t"/><line x1="499" y1="996" x2="499" y2="1027" class="t"/>
<line x1="514" y1="996" x2="514" y2="1027" class="t"/><line x1="516" y1="996" x2="516" y2="1027" class="t"/>
<use href="#sc" x="480.4" y="998.5"/><use href="#sc" x="480.4" y="1025"/>
<use href="#sc" x="541.4" y="998.5"/><use href="#sc" x="541.4" y="1025"/>
<rect x="333.5" y="995.2" width="13.4" height="32.6" class="w"/>
<use href="#rc" x="345" y="1006.7"/><use href="#rc" x="345" y="1017.5"/>
<rect x="667.3" y="995.2" width="12.7" height="32.6" class="w"/>
<circle cx="672" cy="1006.7" r="3" fill="#f5f5f5" stroke="#333" stroke-width=".5"/>
<circle cx="672" cy="1017.5" r="3" fill="#f5f5f5" stroke="#333" stroke-width=".5"/>
<path d="M351.9,995.7 H412.5 L417.5,1000.5 V1023 L412.5,1027.3 H351.9 L346.9,1023 V1000.5Z" class="q" fill="#dcdcdc"/>
<path d="M601.8,995.7 H662.3 L667.3,1000.5 V1023 L662.3,1027.3 H601.8 L596.8,1023 V1000.5Z" class="q" fill="#dcdcdc"/>
<use href="#sq" x="366.7" y="998.7"/><use href="#rc" x="374.7" y="998.7"/><use href="#sq" x="383.1" y="998.7"/><use href="#rc" x="390.8" y="998.7"/><use href="#sq" x="398.4" y="998.7"/>
<use href="#sq" x="366.7" y="1025"/><use href="#rc" x="374.7" y="1025"/><use href="#sq" x="383.1" y="1025"/><use href="#rc" x="390.8" y="1025"/><use href="#sq" x="398.4" y="1025"/>
<use href="#sq" x="615" y="998.7"/><use href="#rc" x="623.5" y="998.7"/><use href="#sq" x="631.1" y="998.7"/><use href="#rc" x="638.7" y="998.7"/><use href="#sq" x="647.1" y="998.7"/>
<use href="#sq" x="615" y="1025"/><use href="#rc" x="623.5" y="1025"/><use href="#sq" x="631.1" y="1025"/><use href="#rc" x="638.7" y="1025"/><use href="#sq" x="647.1" y="1025"/>
<rect x="350.7" y="1028.3" width="64.8" height="6.7" class="w"/>
<rect x="360" y="1028.8" width="12" height="5.5" class="t"/><rect x="385" y="1028.8" width="10" height="5.5" class="t"/>
<rect x="440.3" y="1023.3" width="32.5" height="11.7" class="w"/>
<rect x="443" y="1026" width="6" height="5" class="t"/><rect x="463" y="1025" width="7" height="7" class="t"/>
<line x1="305" y1="1012" x2="690" y2="1012" class="c"/>
</g>
<g class="d">
<line x1="284.7" y1="962.5" x2="310.6" y2="962.5"/>
<line x1="284.7" y1="1028.3" x2="310.6" y2="1028.3"/>
<line x1="287.7" y1="962.5" x2="287.7" y2="1028.3" marker-start="url(#a)" marker-end="url(#a)"/>
<line x1="298.4" y1="994.7" x2="333.5" y2="994.7"/>
<line x1="301" y1="994.7" x2="301" y2="1028.3" marker-start="url(#a)" marker-end="url(#a)"/>
<line x1="413.6" y1="965.8" x2="472.8" y2="965.8"/>
<line x1="413.6" y1="965.8" x2="380" y2="1004" marker-end="url(#a)"/>
<line x1="419.4" y1="980" x2="469" y2="980"/>
<line x1="419.4" y1="980" x2="392.7" y2="1008.3" marker-end="url(#a)"/>
<line x1="557.8" y1="965.8" x2="615.8" y2="965.8"/>
<line x1="615.8" y1="965.8" x2="636.8" y2="1011.7" marker-end="url(#a)"/>
<line x1="561.7" y1="980" x2="606.3" y2="980"/>
<line x1="606.3" y1="980" x2="621.6" y2="1011.7" marker-end="url(#a)"/>
<line x1="207.6" y1="1055.8" x2="310.6" y2="1055.8" marker-end="url(#a)"/>
<line x1="356.4" y1="1055.8" x2="346.9" y2="1055.8" marker-end="url(#a)"/>
<line x1="346.9" y1="1028.3" x2="346.9" y2="1068"/>
<line x1="366.7" y1="1028.3" x2="366.7" y2="1055"/>
<line x1="398.4" y1="1028.3" x2="398.4" y2="1055"/>
<line x1="418.2" y1="1028.3" x2="418.2" y2="1068"/>
<line x1="383.1" y1="990" x2="383.1" y2="1092"/>
<line x1="366.7" y1="1051.3" x2="398.4" y2="1051.3" marker-start="url(#a)" marker-end="url(#a)"/>
<line x1="346.9" y1="1064.2" x2="418.2" y2="1064.2" marker-start="url(#a)" marker-end="url(#a)"/>
<line x1="783.7" y1="1048" x2="680" y2="1048" marker-end="url(#a)"/>
<line x1="657.8" y1="1048" x2="667.3" y2="1048" marker-end="url(#a)"/>
<line x1="615" y1="1028.3" x2="615" y2="1058"/>
<line x1="647.1" y1="1028.3" x2="647.1" y2="1058"/>
<line x1="596.8" y1="1028.3" x2="596.8" y2="1075"/>
<line x1="667.3" y1="1028.3" x2="667.3" y2="1075"/>
<line x1="631.1" y1="990" x2="631.1" y2="1092"/>
<line x1="615" y1="1054.2" x2="647.1" y2="1054.2" marker-start="url(#a)" marker-end="url(#a)"/>
<line x1="596.8" y1="1071.7" x2="667.3" y2="1071.7" marker-start="url(#a)" marker-end="url(#a)"/>
<line x1="310.6" y1="1028.3" x2="310.6" y2="1105"/>
<line x1="680" y1="1028.3" x2="680" y2="1105"/>
<line x1="459.4" y1="990" x2="459.4" y2="1092"/>
<line x1="554.8" y1="990" x2="554.8" y2="1092"/>
<line x1="382.4" y1="1070" x2="382.4" y2="1092"/>
<line x1="310.6" y1="1087.5" x2="382.4" y2="1087.5" marker-start="url(#a)" marker-end="url(#a)"/>
<line x1="382.4" y1="1087.5" x2="459.4" y2="1087.5" marker-start="url(#a)" marker-end="url(#a)"/>
<line x1="459.4" y1="1087.5" x2="554.8" y2="1087.5" marker-start="url(#a)" marker-end="url(#a)"/>
<line x1="554.8" y1="1087.5" x2="631.1" y2="1087.5" marker-start="url(#a)" marker-end="url(#a)"/>
<line x1="631.1" y1="1087.5" x2="680" y2="1087.5" marker-start="url(#a)" marker-end="url(#a)"/>
<line x1="310.6" y1="1101.3" x2="680" y2="1101.3" marker-start="url(#a)" marker-end="url(#a)"/>
</g>
<g>
<text transform="translate(285,996.5) rotate(-90)" class="n m">106.5</text>
<text transform="translate(298,1012) rotate(-90)" class="n m">54</text>
<text x="417.5" y="962" class="z" textLength="53.4" lengthAdjust="spacingAndGlyphs">2-Ø3⊽6 H7</text>
<text x="422.4" y="976" class="z" textLength="40.8" lengthAdjust="spacingAndGlyphs">4-M5⊽11</text>
<text x="557.8" y="962" class="z" textLength="52.3" lengthAdjust="spacingAndGlyphs">2-Ø3⊽6 H7</text>
<text x="561.7" y="976" class="z" textLength="40.8" lengthAdjust="spacingAndGlyphs">4-M5⊽11</text>
<text x="208.4" y="1044" class="z" textLength="92.6" lengthAdjust="spacingAndGlyphs">滑台機械極限52.5±1</text>
<text x="208.4" y="1053" class="s" textLength="83.2" lengthAdjust="spacingAndGlyphs">Mechanical limit:52.5±1</text>
<text x="689" y="1035" class="z" textLength="92.8" lengthAdjust="spacingAndGlyphs">滑台機械極限16.5±1</text>
<text x="689" y="1044" class="s" textLength="83.3" lengthAdjust="spacingAndGlyphs">Mechanical limit:16.5±1</text>
<text x="382" y="1047.5" class="n m">52</text>
<text x="382.2" y="1060.8" class="n m">116</text>
<text x="631.1" y="1050" class="n m">52</text>
<text x="631.1" y="1068.3" class="n m">116</text>
<text x="313.3" y="1076" font-size="8.5" textLength="69" lengthAdjust="spacingAndGlyphs">滑台機械極限115.5</text>
<text x="313.3" y="1083" class="s" textLength="66" lengthAdjust="spacingAndGlyphs">Mechanical limit:115.5</text>
<text x="390.8" y="1084" class="z">有效行程<tspan class="s" font-size="7.5">Stroke</tspan></text>
<text x="506" y="1084" class="n m">155</text>
<text x="563.2" y="1084" class="z">有效行程<tspan class="s" font-size="7.5">Stroke</tspan></text>
<text x="656" y="1084" class="n m">79.5</text>
<text x="509" y="1097.5" class="n m">L</text>
</g>

<!-- ===================== BR SIDE ROW ========================= -->
<g>
<rect x="211.6" y="1126.7" width="67.4" height="33.3" class="p"/>
<rect x="244" y="1122.5" width="33" height="4.5" class="p"/>
<rect x="207" y="1133" width="4.6" height="19" class="p"/>
<rect x="279" y="1126.7" width="5.6" height="16.7" class="p"/>
<rect x="244" y="1159.5" width="26" height="2" class="p"/>
<line x1="275" y1="1126.7" x2="275" y2="1160" class="t"/>
<line x1="260" y1="1118" x2="260" y2="1164" class="k"/>
<use href="#sc" x="215.5" y="1131"/><use href="#sc" x="274" y="1131"/><use href="#sc" x="215.5" y="1156"/><use href="#sc" x="274" y="1156"/>
<path d="M314.6,1127.5 H336 V1159 H314.6 Q311.6,1159 311.6,1156 V1130.5 Q311.6,1127.5 314.6,1127.5Z" class="p"/>
<rect x="336" y="1125.5" width="5.8" height="35" class="p"/>
<rect x="341.8" y="1130" width="338.5" height="30.3" class="p" fill="#e7e7e7"/>
<line x1="341.8" y1="1133.7" x2="680.3" y2="1133.7" class="t"/>
<line x1="341.8" y1="1146" x2="680.3" y2="1146" class="t"/>
<line x1="341.8" y1="1150" x2="680.3" y2="1150" class="t"/>
<line x1="341.8" y1="1157.5" x2="680.3" y2="1157.5" class="t"/>
<line x1="675" y1="1130" x2="675" y2="1160.3" class="t"/>
<use href="#sc" x="672" y="1143"/><use href="#sc" x="345" y="1140"/>
<path d="M347.9,1130 L351,1123 H415 L418.5,1130Z" class="p"/>
<path d="M596.6,1130 L600,1123 H664 L667.3,1130Z" class="p"/>
<rect x="377" y="1125" width="6" height="3.5" rx="1.7" class="w"/>
<rect x="627" y="1125" width="6" height="3.5" rx="1.7" class="w"/>
<rect x="351" y="1130.8" width="65" height="11.7" class="w"/>
<path d="M355,1142.5 V1137 H366 V1134 H376 V1137 H395 V1134 H405 V1137 H412 V1142.5" class="t"/>
<rect x="380" y="1126" width="6" height="12" class="w"/>
<rect x="440.9" y="1130.8" width="32.1" height="11.7" class="w"/>
<path d="M444,1142.5 V1137 H452 V1134 H462 V1137 H470 V1142.5" class="t"/>
<use href="#sc" x="354" y="1133.5"/><use href="#sc" x="413" y="1133.5"/><use href="#sc" x="443.5" y="1133.5"/><use href="#sc" x="470.5" y="1133.5"/>
<line x1="307" y1="1140" x2="345" y2="1140" class="c"/>
<g transform="translate(1610.7,619.5) scale(-1,1)">
<rect x="758.3" y="506.3" width="30.5" height="31.2" class="p"/>
<rect x="760" y="509.5" width="25" height="23" class="w"/>
<rect x="754" y="514" width="6" height="16" class="p"/>
<rect x="741" y="519.7" width="13" height="4.3" class="p"/>
<rect x="788.8" y="503" width="33.4" height="37.5" class="p"/>
<rect x="793" y="509.5" width="25" height="30" class="w"/>
<rect x="818" y="510" width="9" height="11.7" class="p"/>
<use href="#rc" x="763" y="515"/><use href="#rc" x="763" y="528"/><use href="#rc" x="774" y="510"/><use href="#rc" x="774" y="532"/>
<use href="#rc" x="791" y="527"/><use href="#rc" x="791" y="533.5"/><use href="#rc" x="818" y="527"/><use href="#rc" x="818" y="533.5"/>
<line x1="804.4" y1="499" x2="804.4" y2="544" class="k"/>
<line x1="770.5" y1="502" x2="770.5" y2="542" class="k"/>
<line x1="745" y1="521.5" x2="788" y2="521.5" class="k"/>
</g>
</g>
<g class="d">
<line x1="343.2" y1="1112" x2="343.2" y2="1126"/><line x1="362.8" y1="1112" x2="362.8" y2="1124"/>
<line x1="343.2" y1="1117" x2="362.8" y2="1117" marker-start="url(#a)" marker-end="url(#a)"/>
<line x1="653.4" y1="1112" x2="653.4" y2="1124"/><line x1="674.3" y1="1112" x2="674.3" y2="1130"/>
<line x1="653.4" y1="1117" x2="674.3" y2="1117" marker-start="url(#a)" marker-end="url(#a)"/>
<line x1="795.2" y1="1106" x2="795.2" y2="1123"/><line x1="819.8" y1="1106" x2="819.8" y2="1123"/>
<line x1="795.2" y1="1110.8" x2="819.8" y2="1110.8" marker-start="url(#a)" marker-end="url(#a)"/>
<line x1="769" y1="1122.5" x2="792" y2="1122.5"/><line x1="769" y1="1160" x2="792" y2="1160"/>
<line x1="773.3" y1="1122.5" x2="773.3" y2="1160" marker-start="url(#a)" marker-end="url(#a)"/>
<line x1="712" y1="1177.8" x2="781" y2="1177.8"/><line x1="781" y1="1160" x2="781" y2="1177.8"/>
</g>
<g>
<text x="353" y="1114" class="n m">33</text>
<text x="664" y="1113" class="n m">37</text>
<text x="807" y="1107.5" class="n m">42</text>
<text transform="translate(769.5,1141.7) rotate(-90)" class="n m">60</text>
<text x="713.8" y="1165" class="z">基準面</text>
<text x="713.8" y="1175" class="s" textLength="60" lengthAdjust="spacingAndGlyphs">The datum plane</text>
</g>

<!-- ===================== BR BOTTOM VIEW ========================= -->
<g>
<path d="M314.6,1212.5 H334.9 V1276.7 H314.6 Q311.6,1276.7 311.6,1273.7 V1215.5 Q311.6,1212.5 314.6,1212.5Z" class="p"/>
<rect x="313" y="1214" width="4" height="4" class="t"/><rect x="313" y="1271" width="4" height="4" class="t"/>
<line x1="329" y1="1212.5" x2="329" y2="1276.7" class="t"/>
<rect x="334.9" y="1250" width="32.5" height="26.7" class="p"/>
<line x1="338" y1="1250" x2="338" y2="1276.7" class="t"/>
<line x1="338" y1="1256" x2="367.4" y2="1256" class="t"/>
<path d="M367.4,1250.8 H393 V1271 L389,1275.8 H367.4Z" class="p"/>
<rect x="358" y="1276.7" width="5" height="8" class="w"/>
<line x1="360.4" y1="1284" x2="360.4" y2="1289.2" class="d"/>
<rect x="386" y="1275.8" width="5" height="12" class="w"/>
<line x1="323" y1="1263.3" x2="395" y2="1263.3" class="k"/>
<rect x="334.9" y="1211.2" width="345.4" height="33.3" class="p" fill="#e7e7e7"/>
<line x1="342" y1="1211.2" x2="342" y2="1244.5" class="t"/>
<line x1="342" y1="1221.7" x2="680" y2="1221.7" class="t"/>
<line x1="342" y1="1223.2" x2="680" y2="1223.2" class="t"/>
<line x1="342" y1="1235.8" x2="680" y2="1235.8" class="t"/>
<line x1="674" y1="1211.2" x2="674" y2="1244.5" class="t"/>
<use href="#sc" x="347" y="1222.5"/><use href="#sc" x="347" y="1233.5"/>
<use href="#sc" x="676.5" y="1222.5"/><use href="#sc" x="676.5" y="1233.5"/>
<line x1="307" y1="1227.8" x2="686" y2="1227.8" class="c"/>
<use href="#hp" x="358.1" y="1214.2"/><use href="#hp" x="419.5" y="1214.2"/><use href="#hp" x="480.9" y="1214.2"/><use href="#hp" x="542.7" y="1214.2"/><use href="#hp" x="603.6" y="1214.2"/><use href="#hp" x="650.1" y="1214.2"/>
<use href="#hp" x="358.1" y="1241.7"/><use href="#hp" x="419.5" y="1241.7"/><use href="#hp" x="480.9" y="1241.7"/><use href="#hp" x="542.7" y="1241.7"/><use href="#hp" x="603.6" y="1241.7"/><use href="#hp" x="650.1" y="1241.7"/>
<use href="#hp" x="358.1" y="1227.8"/><use href="#hp" x="419.5" y="1227.8"/>
<circle cx="650.1" cy="1227.8" r="6" fill="none" stroke="#2ba4e0" stroke-width=".7"/>
<circle cx="650.1" cy="1227.8" r="1.4" fill="none" stroke="#333" stroke-width=".5"/>
</g>
<g class="d">
<line x1="311.6" y1="1176" x2="311.6" y2="1212"/>
<line x1="358.1" y1="1176" x2="358.1" y2="1312"/>
<line x1="603.6" y1="1176" x2="603.6" y2="1211"/>
<line x1="650.1" y1="1176" x2="650.1" y2="1312"/>
<line x1="680.3" y1="1176" x2="680.3" y2="1211"/>
<line x1="311.6" y1="1182" x2="358.1" y2="1182" marker-start="url(#a)" marker-end="url(#a)"/>
<line x1="358.1" y1="1182" x2="603.6" y2="1182" marker-start="url(#a)" marker-end="url(#a)"/>
<line x1="603.6" y1="1182" x2="650.1" y2="1182" marker-start="url(#a)" marker-end="url(#a)"/>
<line x1="650.1" y1="1182" x2="680.3" y2="1182" marker-start="url(#a)" marker-end="url(#a)"/>
<line x1="311.6" y1="1277" x2="311.6" y2="1312"/>
<line x1="419.5" y1="1244" x2="419.5" y2="1312"/>
<line x1="311.6" y1="1308.7" x2="358.1" y2="1308.7" marker-start="url(#a)" marker-end="url(#a)"/>
<line x1="358.1" y1="1308.7" x2="419.5" y2="1308.7" marker-start="url(#a)" marker-end="url(#a)"/>
<line x1="419.5" y1="1308.7" x2="650.1" y2="1308.7" marker-start="url(#a)" marker-end="url(#a)"/>
<line x1="655.7" y1="1214.2" x2="702.2" y2="1214.2"/><line x1="655.7" y1="1241.7" x2="702.2" y2="1241.7"/>
<line x1="700" y1="1214.2" x2="700" y2="1241.7" marker-start="url(#a)" marker-end="url(#a)"/>
<line x1="680.3" y1="1211.2" x2="723" y2="1211.2"/><line x1="680.3" y1="1244.5" x2="723" y2="1244.5"/>
<line x1="720.8" y1="1211.2" x2="720.8" y2="1244.5" marker-start="url(#a)" marker-end="url(#a)"/>
<line x1="493" y1="1199.7" x2="590.6" y2="1199.7"/>
<line x1="590.6" y1="1199.7" x2="613.9" y2="1225" marker-end="url(#a)"/>
<line x1="434.8" y1="1263.3" x2="493" y2="1263.3"/>
<line x1="434.8" y1="1263.3" x2="414.8" y2="1215" marker-end="url(#a)"/>
<line x1="660" y1="1205.5" x2="651" y2="1205.5" marker-end="url(#a)"/>
<line x1="660" y1="1250.8" x2="651" y2="1250.8" marker-end="url(#a)"/>
<line x1="631" y1="1256" x2="646.5" y2="1233"/>
</g>
<g>
<text x="334" y="1178.3" class="n m">75.5</text>
<text x="481" y="1178.3" class="n m">M*100</text>
<text x="627.8" y="1178.3" class="n m">A</text>
<text x="665" y="1178.3" class="n m">50</text>
<text x="334" y="1305" class="n m">75.5</text>
<text x="391" y="1305" class="n m">100±0.02</text>
<text x="519" y="1305" class="n m">P</text>
<text x="493" y="1196.7" class="z" textLength="93" lengthAdjust="spacingAndGlyphs">N-M5⊽13+Ø4.4 THR</text>
<text x="438" y="1260" class="z" textLength="52.6" lengthAdjust="spacingAndGlyphs">2-Ø5⊽6 H7</text>
<text transform="translate(696,1227.8) rotate(-90)" class="n m">45</text>
<text transform="translate(717,1227.8) rotate(-90)" class="n m">54</text>
<text x="660" y="1207.5" class="or">C</text>
<text x="660" y="1255" class="or">C</text>
<text x="627" y="1254.2" class="bl" font-size="10">B</text>
</g>
<use href="#bv" x="-9" y="662.7"/>
<use href="#cc" x="10" y="639"/>
</svg>

<table class="tb" style="left:289px;top:690px;">
<colgroup><col style="width:68px"><col span="13" style="width:33.07px"></colgroup>
<tr class="h"><td class="f">有效行程<br>Stroke</td><td>25</td><td>50</td><td>75</td><td>100</td><td>125</td><td>150</td><td>175</td><td>200</td><td>225</td><td>250</td><td>275</td><td>300</td><td>325</td></tr>
<tr><td class="f">L</td><td>400</td><td>450</td><td>500</td><td>550</td><td>600</td><td>650</td><td>700</td><td>750</td><td>800</td><td>850</td><td>900</td><td>950</td><td>1000</td></tr>
<tr><td class="f">A</td><td>75</td><td>25</td><td>75</td><td>25</td><td>75</td><td>25</td><td>75</td><td>25</td><td>75</td><td>25</td><td>75</td><td>25</td><td>75</td></tr>
<tr><td class="f">M</td><td>2</td><td>3</td><td>3</td><td>4</td><td>4</td><td>5</td><td>5</td><td>6</td><td>6</td><td>7</td><td>7</td><td>8</td><td>8</td></tr>
<tr><td class="f">N</td><td>8</td><td>10</td><td>10</td><td>12</td><td>12</td><td>14</td><td>14</td><td>16</td><td>16</td><td>18</td><td>18</td><td>20</td><td>20</td></tr>
<tr><td class="f">P</td><td>175</td><td>225</td><td>275</td><td>325</td><td>375</td><td>425</td><td>475</td><td>525</td><td>575</td><td>625</td><td>675</td><td>725</td><td>775</td></tr>
<tr><td class="f">KG</td><td>2.99</td><td>3.18</td><td>3.38</td><td>3.58</td><td>3.77</td><td>3.97</td><td>4.17</td><td>4.36</td><td>4.56</td><td>4.76</td><td>4.95</td><td>5.15</td><td>5.35</td></tr>
</table>

<table class="tb" style="left:300px;top:1318px;">
<colgroup><col style="width:68px"><col span="13" style="width:33.07px"></colgroup>
<tr class="h"><td class="f">有效行程<br>Stroke</td><td>25</td><td>50</td><td>75</td><td>100</td><td>125</td><td>150</td><td>175</td><td>200</td><td>225</td><td>250</td><td>275</td><td>300</td><td>325</td></tr>
<tr><td class="f">L</td><td>400</td><td>450</td><td>500</td><td>550</td><td>600</td><td>650</td><td>700</td><td>750</td><td>800</td><td>850</td><td>900</td><td>950</td><td>1000</td></tr>
<tr><td class="f">A</td><td>75</td><td>25</td><td>75</td><td>25</td><td>75</td><td>25</td><td>75</td><td>25</td><td>75</td><td>25</td><td>75</td><td>25</td><td>75</td></tr>
<tr><td class="f">M</td><td>2</td><td>3</td><td>3</td><td>4</td><td>4</td><td>5</td><td>5</td><td>6</td><td>6</td><td>7</td><td>7</td><td>8</td><td>8</td></tr>
<tr><td class="f">N</td><td>8</td><td>10</td><td>10</td><td>12</td><td>12</td><td>14</td><td>14</td><td>16</td><td>16</td><td>18</td><td>18</td><td>20</td><td>20</td></tr>
<tr><td class="f">P</td><td>175</td><td>225</td><td>275</td><td>325</td><td>375</td><td>425</td><td>475</td><td>525</td><td>575</td><td>625</td><td>675</td><td>725</td><td>775</td></tr>
<tr><td class="f">KG</td><td>2.99</td><td>3.18</td><td>3.38</td><td>3.58</td><td>3.77</td><td>3.97</td><td>4.17</td><td>4.36</td><td>4.56</td><td>4.76</td><td>4.95</td><td>5.15</td><td>5.35</td></tr>
</table>
</div>
</body></html>
